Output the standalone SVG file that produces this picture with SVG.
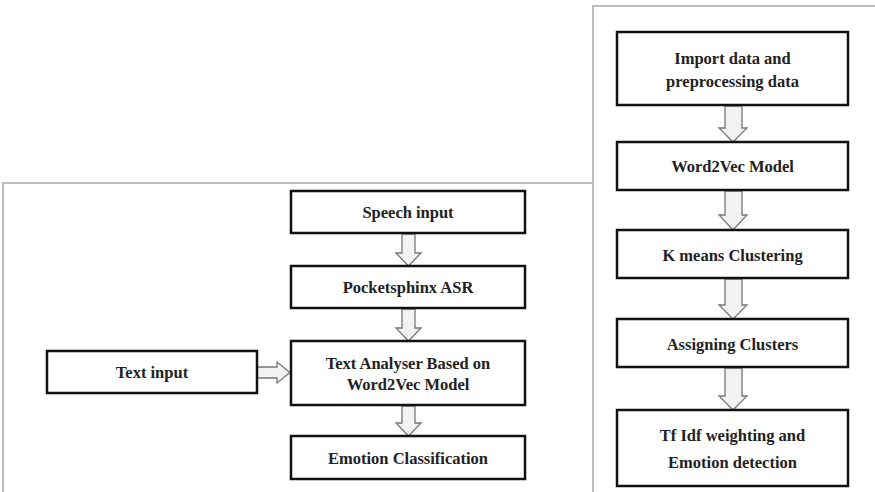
<svg xmlns="http://www.w3.org/2000/svg" width="875" height="492" viewBox="0 0 875 492">
<style>
.panel{fill:none;stroke:#bdbdbd;stroke-width:2}
.box{fill:#fff;stroke:#111;stroke-width:2.5}
.t{font-family:'Liberation Serif','Times New Roman',serif;font-weight:bold;font-size:16.5px;fill:#222;text-anchor:middle;dominant-baseline:central}
.arr{fill:#f2f2f2;stroke:#777;stroke-width:1.3;stroke-linejoin:miter}
</style>
<rect width="875" height="492" fill="#fff"/>
<g id="panels">
<polyline class="panel" points="3,492 3,183 593,183"/>
<polyline class="panel" points="593,492 593,6 875,6"/>
</g>
<g id="connectors">
<polygon class="arr" points="402,234 415,234 415,253 421,253 408.5,266 396,253 402,253"/>
<polygon class="arr" points="402,309 415,309 415,328 421,328 408.5,341 396,328 402,328"/>
<polygon class="arr" points="402,406 415,406 415,423 421,423 408.5,436 396,423 402,423"/>
<polygon class="arr" points="257,367 277,367 277,362 290,372.5 277,383 277,378 257,378"/>
<polygon class="arr" points="725,106 742,106 742,128 747,128 733,142 719,128 725,128"/>
<polygon class="arr" points="725,191 742,191 742,215 747,215 733,230 719,215 725,215"/>
<polygon class="arr" points="725,279 742,279 742,305 747,305 733,319 719,305 725,305"/>
<polygon class="arr" points="725,368 742,368 742,396 747,396 733,410 719,396 725,396"/>
</g>
<g id="speech">
<rect class="box" x="291" y="191" width="234" height="42"/>
<text class="t" x="408" y="212" font-family="Liberation Serif, serif">Speech input</text>
</g>
<g id="pocketsphinx">
<rect class="box" x="291" y="266" width="234" height="42"/>
<text class="t" x="408" y="287" font-family="Liberation Serif, serif">Pocketsphinx ASR</text>
</g>
<g id="analyser">
<rect class="box" x="291" y="341" width="234" height="64"/>
<text class="t" x="408" y="363" font-family="Liberation Serif, serif">Text Analyser Based on</text>
<text class="t" x="408" y="384" font-family="Liberation Serif, serif">Word2Vec Model</text>
</g>
<g id="emotion">
<rect class="box" x="291" y="436" width="234" height="43"/>
<text class="t" x="408" y="458" font-family="Liberation Serif, serif">Emotion Classification</text>
</g>
<g id="textinput">
<rect class="box" x="47" y="351" width="210" height="42"/>
<text class="t" x="152" y="372" font-family="Liberation Serif, serif">Text input</text>
</g>
<g id="import">
<rect class="box" x="617" y="32" width="231" height="73"/>
<text class="t" x="732.5" y="58" font-family="Liberation Serif, serif">Import data and</text>
<text class="t" x="732.5" y="81" font-family="Liberation Serif, serif">preprocessing data</text>
</g>
<g id="word2vec">
<rect class="box" x="617" y="142" width="231" height="48"/>
<text class="t" x="732.5" y="166" font-family="Liberation Serif, serif">Word2Vec Model</text>
</g>
<g id="kmeans">
<rect class="box" x="617" y="230" width="231" height="48"/>
<text class="t" x="732.5" y="255" font-family="Liberation Serif, serif">K means Clustering</text>
</g>
<g id="assigning">
<rect class="box" x="617" y="319" width="231" height="48"/>
<text class="t" x="732.5" y="344" font-family="Liberation Serif, serif">Assigning Clusters</text>
</g>
<g id="tfidf">
<rect class="box" x="617" y="410" width="231" height="76"/>
<text class="t" x="732.5" y="435" font-family="Liberation Serif, serif">Tf Idf weighting and</text>
<text class="t" x="732.5" y="462" font-family="Liberation Serif, serif">Emotion detection</text>
</g>
</svg>
